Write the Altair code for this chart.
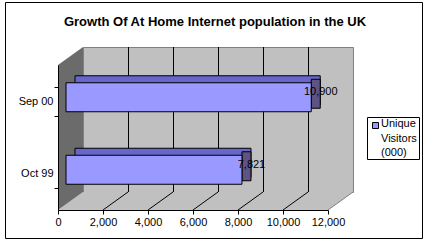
import altair as alt
import pandas as pd

# ---- data ----
title_text = "Growth Of At Home Internet population in the UK"
categories = ["Sep 00", "Oct 99"]
values = [10900, 7821]
series_name = "Unique Visitors (000)"
x_ticks = [0, 2000, 4000, 6000, 8000, 10000, 12000]

# ---- layout (view pixels) ----
W, H = 417, 236
X0, X1 = 53, 323          # front plane x range
Y0, Y1 = 63, 208          # front plane y range
DX, DY = 25, -18          # depth offset of back wall
FONT = "Liberation Sans"

bars = pd.DataFrame({"cat": categories, "value": values})
ticks_df = pd.DataFrame({"t": x_ticks})
inner_ticks = ticks_df[(ticks_df.t > 0) & (ticks_df.t < 12000)]
last_tick = ticks_df[ticks_df.t == 12000]
one = pd.DataFrame({"name": [series_name], "title": [title_text],
                    "lo": [x_ticks[0]], "hi": [x_ticks[-1]]})

xs = alt.Scale(domain=[0, 12000], range=[X0, X1], nice=False, zero=True)
ys = alt.Scale(domain=categories, range=[Y0, Y1], paddingInner=0.6, paddingOuter=0.3)

x_axis = alt.Axis(orient="bottom", offset=-(H - Y1), values=x_ticks,
                  labelExpr="datum.value == 0 ? '0' : (floor(datum.value / 1000) + ',000')",
                  grid=False, domainColor="black",
                  tickColor="black", tickSize=4, labelPadding=2,
                  labelFont=FONT, labelFontSize=11, labelColor="black",
                  labelFlush=False, labelOverlap=False, zindex=2)
y_axis = alt.Axis(orient="left", offset=-X0, grid=False,
                  domainColor="black", tickColor="black", tickSize=4,
                  tickBand="extent", labelPadding=1, labelFont=FONT,
                  labelFontSize=11, labelColor="black", zindex=2)


def X(field):
    return alt.X(field, scale=xs, axis=x_axis, title=None)


def Y(field):
    return alt.Y(field, scale=ys, sort=categories, axis=y_axis, title=None)


# back wall
back_wall = alt.Chart(one).mark_rect(
    fill="#C0C0C0", stroke="#808080", strokeWidth=1,
    xOffset=DX + 0.5, x2Offset=DX + 0.5, yOffset=DY + 0.5, y2Offset=DY + 0.5
).encode(
    x=X("lo:Q"), x2="hi:Q",
    y=alt.value(Y0), y2=alt.value(Y1)
)

# floor
floor = alt.Chart(one).mark_point(
    shape=f"M0,0 L{X1-X0},0 L{X1-X0+DX},{DY} L{DX},{DY} Z",
    size=4, filled=True, fill="#C0C0C0", strokeWidth=0, opacity=1
).encode(x=X("lo:Q"), y=alt.value(Y1))

# side wall
side_wall = alt.Chart(one).mark_point(
    shape=f"M0,0 L{DX},{DY} L{DX},{Y1-Y0+DY} L0,{Y1-Y0} Z",
    size=4, filled=True, fill="#6B6B6B", strokeWidth=0, opacity=1
).encode(x=X("lo:Q"), y=alt.value(Y0))

# back wall gridlines
grid = alt.Chart(inner_ticks).mark_rule(
    color="black", strokeWidth=1, xOffset=DX + 0.5, yOffset=DY, y2Offset=DY
).encode(x=X("t:Q"), y=alt.value(Y0), y2=alt.value(Y1))

# floor diagonals
diag = alt.Chart(inner_ticks).mark_rule(
    color="black", strokeWidth=1, x2Offset=DX, y2Offset=DY
).encode(x=X("t:Q"), x2="t:Q", y=alt.value(Y1), y2=alt.value(Y1))
diag_edge = alt.Chart(last_tick).mark_rule(
    color="#808080", strokeWidth=1, x2Offset=DX, y2Offset=DY
).encode(x=X("t:Q"), x2="t:Q", y=alt.value(Y1), y2=alt.value(Y1))

# 3D bar parts
bar_back = alt.Chart(bars).mark_bar(
    fill="#6666CC", stroke="black", strokeWidth=1,
    xOffset=17, x2Offset=17, yOffset=-11, y2Offset=-11
).encode(x=X("value:Q"), y=Y("cat:N"))

bar_side = alt.Chart(bars).mark_tick(
    thickness=9, size=29, fill="#5E5383", stroke="black", strokeWidth=1,
    opacity=1, xOffset=12.5, yOffset=-7.5
).encode(x=X("value:Q"), y=Y("cat:N"))

bar_front = alt.Chart(bars).mark_bar(
    fill="#9999FF", stroke="black", strokeWidth=1,
    xOffset=8, x2Offset=8, yOffset=-4, y2Offset=-4
).encode(x=X("value:Q"), y=Y("cat:N"))

labels = alt.Chart(bars).mark_text(
    font=FONT, fontSize=11, color="black", align="center", baseline="middle",
    xOffset=17.5, yOffset=-9
).encode(x=X("value:Q"), y=Y("cat:N"),
         text=alt.Text("value:Q", format=","))

title = alt.Chart(one).mark_text(
    font=FONT, fontSize=13, fontWeight="bold", color="black",
    align="center", baseline="middle"
).encode(x=alt.value(210), y=alt.value(20), text="title:N")

# legend
leg_box = alt.Chart(one).mark_rect(fill="white", stroke="black", strokeWidth=1).encode(
    x=alt.value(362.5), x2=alt.value(414.5), y=alt.value(115.5), y2=alt.value(157.5))
leg_sw = alt.Chart(one).mark_rect(fill="#9999FF", stroke="black", strokeWidth=1).encode(
    x=alt.value(367.5), x2=alt.value(373.5), y=alt.value(120.5), y2=alt.value(126.5))
leg_txt = alt.Chart(one).mark_text(
    font=FONT, fontSize=11, color="black", align="left", baseline="top",
    lineBreak=" ", lineHeight=14.5
).encode(x=alt.value(376), y=alt.value(116), text="name:N")

chart = alt.layer(
    back_wall, floor, side_wall, grid, diag, diag_edge,
    bar_back, bar_side, bar_front, labels, title, leg_box, leg_sw, leg_txt
).properties(
    width=W, height=H,
    autosize=alt.AutoSizeParams(type="none"),
    padding={"left": 5, "top": 2, "right": 6, "bottom": 6},
    background="white"
).configure_view(stroke="black", strokeWidth=1, fill="white")

chart.save("out.html", embed_options={"renderer": "svg", "actions": False})
